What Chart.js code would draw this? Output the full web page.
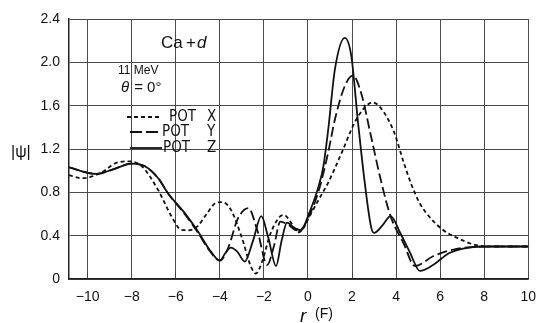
<!DOCTYPE html>
<html>
<head>
<meta charset="utf-8">
<script src="https://cdn.jsdelivr.net/npm/chart.js@4/dist/chart.umd.min.js"></script>
<style>
  html, body { margin: 0; padding: 0; background: #fff; }
  #wrap { width: 546px; height: 323px; }
</style>
</head>
<body>
<div id="wrap"><canvas id="c" width="546" height="323"></canvas></div>
<script>
// r in fermi, |psi|
const R_X = [-10.85, -10.3, -9.4, -8.73, -8.14, -7.54, -6.8, -6.2, -5.76, -5.4, -5.0, -4.6, -4.2, -3.9, -3.5, -3.0, -2.6, -2.37, -2.1, -1.7, -1.3, -1.08, -0.8, -0.45, -0.2, 0, 0.48, 0.92, 1.52, 2.11, 2.56, 2.93, 3.3, 3.9, 4.34, 4.7, 5.1, 5.53, 6.12, 6.87, 7.5, 8.2, 9, 10];
const PSI_X = [0.96, 0.93, 0.98, 1.07, 1.086, 1.04, 0.82, 0.58, 0.455, 0.45, 0.49, 0.60, 0.70, 0.71, 0.64, 0.38, 0.12, 0.05, 0.15, 0.42, 0.57, 0.59, 0.53, 0.43, 0.47, 0.55, 0.73, 0.89, 1.16, 1.44, 1.58, 1.63, 1.58, 1.36, 1.08, 0.87, 0.69, 0.57, 0.455, 0.37, 0.32, 0.30, 0.30, 0.30];

const R_Y = [-10.85, -9.62, -8.88, -8.0, -7.4, -6.8, -6.35, -5.6, -5.0, -4.5, -4.0, -3.6, -3.2, -2.71, -2.3, -1.85, -1.55, -1.25, -0.9, -0.5, -0.3, 0, 0.48, 0.92, 1.22, 1.67, 2.04, 2.41, 2.86, 3.3, 3.75, 4.34, 4.86, 5.68, 6.57, 7.46, 8.5, 10];
const PSI_Y = [1.03, 0.97, 1.01, 1.065, 1.04, 0.93, 0.79, 0.60, 0.43, 0.27, 0.17, 0.30, 0.55, 0.655, 0.45, 0.13, 0.30, 0.53, 0.50, 0.45, 0.46, 0.56, 0.81, 1.17, 1.47, 1.78, 1.877, 1.72, 1.32, 0.92, 0.58, 0.33, 0.12, 0.21, 0.27, 0.295, 0.30, 0.30];

const R_Z = [-10.85, -9.62, -8.88, -8.0, -7.4, -6.8, -6.35, -5.6, -5.0, -4.5, -4.0, -3.75, -3.5, -3.2, -2.87, -2.5, -2.12, -1.8, -1.45, -1.2, -0.95, -0.6, -0.3, 0, 0.48, 0.7, 0.92, 1.22, 1.67, 1.97, 2.26, 2.56, 2.86, 3.0, 3.4, 3.75, 4.19, 4.64, 5.08, 5.68, 6.42, 7.31, 8.35, 10];
const PSI_Z = [1.03, 0.97, 1.01, 1.065, 1.04, 0.93, 0.79, 0.61, 0.44, 0.28, 0.17, 0.24, 0.29, 0.25, 0.16, 0.35, 0.58, 0.38, 0.12, 0.35, 0.52, 0.47, 0.45, 0.58, 0.855, 1.04, 1.38, 1.93, 2.225, 2.055, 1.47, 0.92, 0.486, 0.425, 0.50, 0.58, 0.425, 0.24, 0.075, 0.13, 0.24, 0.29, 0.30, 0.30];

const X_TICKS = [-10, -8, -6, -4, -2, 0, 2, 4, 6, 8, 10];
const Y_TICKS = [0, 0.4, 0.8, 1.2, 1.6, 2.0, 2.4];

const INK = '#111';
const FONT = '"Liberation Sans", Arial, sans-serif';
const NARROW = '"Liberation Sans Narrow", "DejaVu Sans Condensed", "Liberation Sans", sans-serif';

function points(xs, ys) {
  return xs.map((x, i) => ({ x, y: ys[i] }));
}

function curve(label, xs, ys, dash) {
  return {
    label,
    data: points(xs, ys),
    borderColor: INK,
    borderWidth: 1.8,
    borderDash: dash,
    pointRadius: 0,
    fill: false,
    cubicInterpolationMode: 'monotone',
  };
}

// text and legend drawn over the plot
const annotate = {
  id: 'annotate',
  afterDraw(chart) {
    const { ctx } = chart;
    ctx.save();
    ctx.fillStyle = INK;
    ctx.strokeStyle = INK;
    ctx.textBaseline = 'middle';

    ctx.font = `17px ${FONT}`;
    ctx.fillText('Ca', 161, 43);
    ctx.fillText('+', 186, 43);
    ctx.font = `italic 17px ${FONT}`;
    ctx.fillText('d', 197, 43);

    ctx.font = `12px ${FONT}`;
    ctx.fillText('11 MeV', 118, 71);
    ctx.font = `italic 15px ${FONT}`;
    ctx.fillText('θ', 121, 88);
    ctx.font = `15px ${FONT}`;
    ctx.fillText(' = 0°', 130, 88);

    const rows = [
      { y: 117, dash: [4, 3], x0: 127, x1: 160, tx: 169, name: 'X' },
      { y: 132, dash: [12, 4], x0: 130, x1: 160, tx: 162, name: 'Y' },
      { y: 148, dash: [], x0: 130, x1: 162, tx: 163, name: 'Z' },
    ];
    ctx.font = `15px ${NARROW}`;
    rows.forEach((row) => {
      ctx.beginPath();
      ctx.lineWidth = 1.8;
      ctx.setLineDash(row.dash);
      ctx.moveTo(row.x0, row.y);
      ctx.lineTo(row.x1, row.y);
      ctx.stroke();
      ctx.setLineDash([]);
      ctx.fillText('POT', row.tx, row.y);
      ctx.fillText(row.name, 207, row.y);
    });

    ctx.font = `16px ${FONT}`;
    ctx.fillText('|ψ|', 11, 153);

    ctx.font = `italic 19px ${FONT}`;
    ctx.textBaseline = 'alphabetic';
    ctx.fillText('r', 300, 322);
    ctx.font = `14px ${FONT}`;
    ctx.fillText('(F)', 315, 318);
    ctx.restore();
  },
};

new Chart(document.getElementById('c'), {
  type: 'line',
  data: {
    datasets: [
      curve('POT X', R_X, PSI_X, [4, 3]),
      curve('POT Y', R_Y, PSI_Y, [10, 4]),
      curve('POT Z', R_Z, PSI_Z, []),
    ],
  },
  options: {
    responsive: false,
    animation: false,
    layout: { padding: { top: 19, right: 9, left: 0, bottom: 0 } },
    plugins: { legend: { display: false }, tooltip: { enabled: false } },
    scales: {
      x: {
        type: 'linear',
        min: -10.85,
        max: 10,
        afterFit: (scale) => { scale.height = 44; },
        afterBuildTicks: (scale) => { scale.ticks = X_TICKS.map((value) => ({ value })); },
        grid: { color: '#4a4a4a', lineWidth: 1, drawTicks: false },
        border: { color: '#222', width: 1.5 },
        ticks: {
          padding: 10,
          color: INK,
          font: { family: FONT, size: 14 },
          callback: (v) => (v < 0 ? '\u2212' + Math.abs(v) : String(v)),
        },
      },
      y: {
        min: 0,
        max: 2.4,
        afterFit: (scale) => { scale.width = 69; },
        afterBuildTicks: (scale) => { scale.ticks = Y_TICKS.map((value) => ({ value })); },
        grid: { color: '#4a4a4a', lineWidth: 1, drawTicks: false },
        border: { color: '#222', width: 1.5 },
        ticks: {
          padding: 9,
          color: INK,
          font: { family: FONT, size: 14 },
          callback: (v) => (v === 0 ? '0' : v.toFixed(1)),
        },
      },
    },
  },
  plugins: [annotate],
});
</script>
</body>
</html>
